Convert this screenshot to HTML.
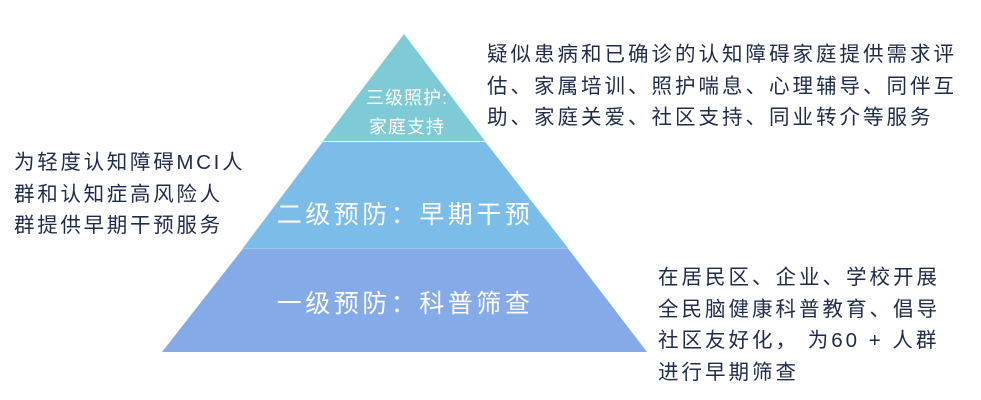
<!DOCTYPE html>
<html><head><meta charset="utf-8"><style>
html,body{margin:0;padding:0;background:#fff;}
body{width:981px;height:400px;position:relative;overflow:hidden;font-family:"Liberation Sans","Noto Sans CJK SC",sans-serif;}
.t{position:absolute;color:#1f2b4d;font-size:20.5px;letter-spacing:3px;line-height:31.5px;white-space:nowrap;}
.w{position:absolute;color:#fff;white-space:nowrap;text-align:center;transform:translateX(-50%);}
</style></head><body>
<svg width="981" height="400" style="position:absolute;left:0;top:0">
<polygon points="404,34 485,141 323,141" fill="#7ECAD6"/>
<polygon points="323,141.5 485,141.5 568,248 243,248" fill="#7BBCE8"/>
<polygon points="243,248.5 568,248.5 647,352 162,352" fill="#85AAE8"/>
<line x1="323" y1="141.5" x2="485" y2="141.5" stroke="#e8f4fa" stroke-width="1"/>
<line x1="243" y1="248.5" x2="568" y2="248.5" stroke="#9cc6ec" stroke-width="1"/>
</svg>
<div class="w" style="left:407px;top:84px;font-size:18px;line-height:29px;letter-spacing:1px;">三级照护:<br>家庭支持</div>
<div class="w" style="left:405px;top:195px;font-size:25px;letter-spacing:3.5px;">二级预防：早期干预</div>
<div class="w" style="left:405px;top:284px;font-size:25px;letter-spacing:3.5px;">一级预防：科普筛查</div>
<div class="t" style="left:487px;top:39px;">疑似患病和已确诊的认知障碍家庭提供需求评<br>估、家属培训、照护喘息、心理辅导、同伴互<br>助、家庭关爱、社区支持、同业转介等服务</div>
<div class="t" style="left:14px;top:147px;letter-spacing:2.7px;">为轻度认知障碍MCI人<br>群和认知症高风险人<br>群提供早期干预服务</div>
<div class="t" style="left:658px;top:262px;">在居民区、企业、学校开展<br>全民脑健康科普教育、倡导<br>社区友好化， 为60 + 人群<br>进行早期筛查</div>
</body></html>
